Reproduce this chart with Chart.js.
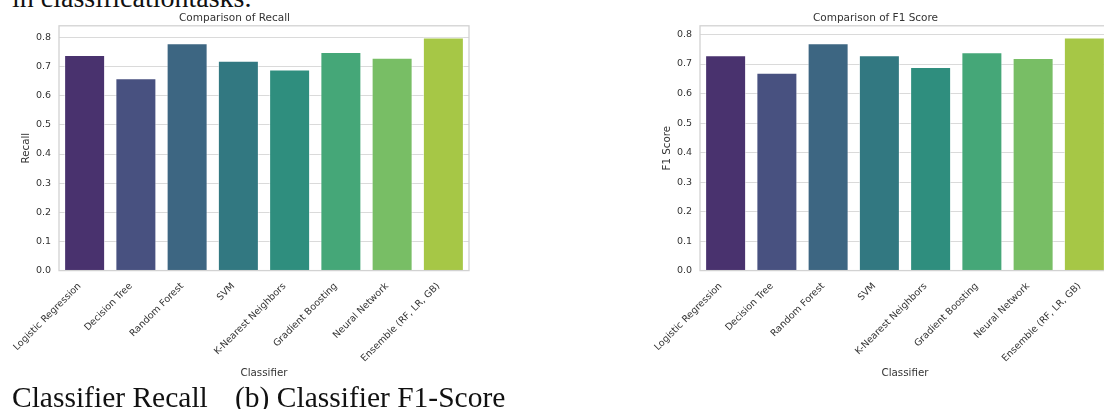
<!DOCTYPE html>
<html lang="en">
<head>
  <meta charset="UTF-8">
  <title>Classifier Comparison</title>
  <script src="https://cdn.jsdelivr.net/npm/chart.js"></script>
  <style>
    body { margin: 0; width: 1104px; height: 409px; overflow: hidden; background: #fff; position: relative; }
    .caption { position: absolute; font-family: "Liberation Serif", "Times New Roman", serif; font-size: 29.5px; line-height: 29.5px; color: #111; white-space: nowrap; }
    .panel { position: absolute; top: 0; width: 520px; height: 385px; }
  </style>
</head>
<body>

  <div class="caption" style="left: 12px; top: -16px; font-size: 28px; line-height: 28px;">in classificationtasks.</div>

  <div class="panel" style="left: 0;"><canvas id="recallChart"></canvas></div>
  <div class="panel" style="left: 641px;"><canvas id="f1Chart"></canvas></div>

  <div class="caption" style="left: 12px; top: 383px;">Classifier Recall</div>
  <div class="caption" style="left: 235px; top: 383px;">(b) Classifier F1-Score</div>

  <script>
    const classifiers = ['Logistic Regression', 'Decision Tree', 'Random Forest', 'SVM',
      'K-Nearest Neighbors', 'Gradient Boosting', 'Neural Network', 'Ensemble (RF, LR, GB)'];
    const recall = [0.74, 0.66, 0.78, 0.72, 0.69, 0.75, 0.73, 0.80];
    const f1Score = [0.73, 0.67, 0.77, 0.73, 0.69, 0.74, 0.72, 0.79];
    const yTicks = [0, 0.1, 0.2, 0.3, 0.4, 0.5, 0.6, 0.7, 0.8];
    // viridis, 8 steps, desaturated like seaborn bars
    const barColors = ['#49326e', '#485180', '#3d6682', '#327881', '#2f8e7e', '#45a778', '#78be65', '#a6c746'];

    const FONT = '"DejaVu Sans", sans-serif';
    const TEXT = '#333333';
    const GRID = '#dadada';

    // box around the plot area (all four spines)
    const framePlugin = {
      id: 'frame',
      afterDatasetsDraw(chart) {
        const { ctx, chartArea: a } = chart;
        ctx.save();
        ctx.strokeStyle = '#d2d2d2';
        ctx.lineWidth = 1.3;
        ctx.strokeRect(a.left, a.top, a.right - a.left, a.bottom - a.top);
        ctx.restore();
      }
    };

    function makeChart(id, title, yLabel, values) {
      const ctx = document.getElementById(id).getContext('2d');
      return new Chart(ctx, {
        type: 'bar',
        data: {
          labels: classifiers,
          datasets: [{
            data: values,
            backgroundColor: barColors,
            borderColor: 'rgba(255,255,255,0.55)',
            borderWidth: 1,
            barPercentage: 0.8,
            categoryPercentage: 1.0
          }]
        },
        options: {
          responsive: true,
          maintainAspectRatio: false,
          animation: false,
          layout: { padding: { left: 0, top: 0, bottom: 0, right: 51 } },
          plugins: {
            legend: { display: false },
            tooltip: { enabled: false },
            title: {
              display: true,
              text: title,
              color: TEXT,
              font: { family: FONT, size: 10.5, weight: 'normal' },
              padding: { top: 12, bottom: 1.2 }
            }
          },
          scales: {
            x: {
              grid: { display: false },
              border: { display: false },
              ticks: {
                autoSkip: false,
                minRotation: 45,
                maxRotation: 45,
                padding: 2,
                labelOffset: -5,
                color: TEXT,
                font: { family: FONT, size: 9.5 }
              },
              title: {
                display: true,
                text: 'Classifier',
                color: TEXT,
                font: { family: FONT, size: 10.3 },
                padding: { top: 0, bottom: 5 }
              },
              afterFit(scale) { scale.height = 114.4; }
            },
            y: {
              min: 0,
              max: Math.max(...values) * 1.05,
              grid: { color: GRID, lineWidth: 1, drawTicks: false },
              border: { display: false },
              afterBuildTicks(scale) { scale.ticks = yTicks.map(v => ({ value: v })); },
              ticks: {
                padding: 8,
                color: TEXT,
                font: { family: FONT, size: 9.5 },
                callback: v => v.toFixed(1)
              },
              title: {
                display: true,
                text: yLabel,
                color: TEXT,
                font: { family: FONT, size: 10.3 },
                padding: { top: 20, bottom: 0 }
              },
              afterFit(scale) { scale.width = 59; }
            }
          }
        },
        plugins: [framePlugin]
      });
    }

    makeChart('recallChart', 'Comparison of Recall', 'Recall', recall);
    makeChart('f1Chart', 'Comparison of F1 Score', 'F1 Score', f1Score);
  </script>

</body>
</html>
